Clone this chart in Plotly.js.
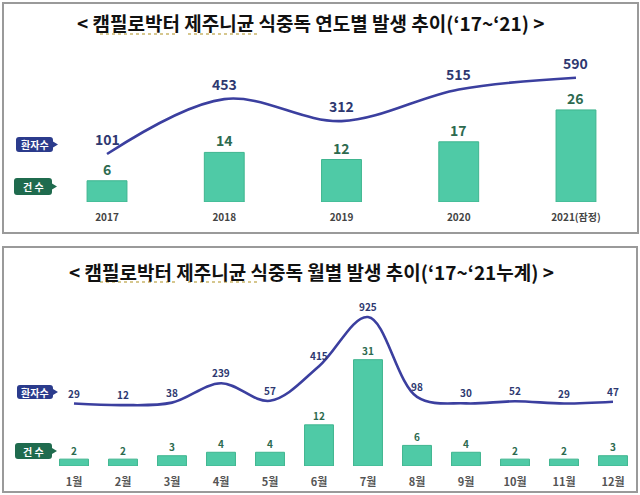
<!DOCTYPE html>
<html>
<head>
<meta charset="utf-8">
<script src="https://cdn.plot.ly/plotly-3.0.1.min.js"></script>
<style>html,body{margin:0;padding:0;background:#fff;}#chart{width:640px;height:495px;}</style>
</head>
<body>
<div id="chart"></div>
<script>
// ---- data ----
const years = ['2017', '2018', '2019', '2020', '2021(잠정)'];
const yearCases = [6, 14, 12, 17, 26];
const yearPatients = [101, 453, 312, 515, 590];

const months = ['1월', '2월', '3월', '4월', '5월', '6월', '7월', '8월', '9월', '10월', '11월', '12월'];
const monthCases = [2, 2, 3, 4, 4, 12, 31, 6, 4, 2, 2, 3];
const monthPatients = [29, 12, 38, 239, 57, 415, 925, 98, 30, 52, 29, 47];

const titleTop = '< 캠필로박터 제주니균 식중독 연도별 발생 추이(‘17~‘21) >';
const titleBottom = '< 캠필로박터 제주니균 식중독 월별 발생 추이(‘17~‘21누계) >';
const patientLabel = '환자수';
const caseLabel = '건 수';

// ---- helpers (pixel -> paper) ----
const W = 640, H = 495;
const X = px => px / W;
const Y = py => 1 - py / H;

const FONT = '"Noto Sans CJK KR", "Noto Sans", sans-serif';
const barColor = '#4fcaa6';
const barLine = '#3fb58f';
const lineColor = '#3b3f9f';
const navy = '#2e3870';
const green = '#2d6a4f';

const traces = [
  {type: 'bar', x: years, y: yearCases, xaxis: 'x', yaxis: 'y', width: 0.34,
   marker: {color: barColor, line: {color: barLine, width: 1}}, hoverinfo: 'none'},
  {type: 'scatter', mode: 'lines', x: years, y: yearPatients, xaxis: 'x', yaxis: 'y2',
   line: {color: lineColor, width: 2.6, shape: 'spline', smoothing: 1}, hoverinfo: 'none'},
  {type: 'bar', x: months, y: monthCases, xaxis: 'x2', yaxis: 'y3', width: 0.59,
   marker: {color: barColor, line: {color: barLine, width: 1}}, hoverinfo: 'none'},
  {type: 'scatter', mode: 'lines', x: months, y: monthPatients, xaxis: 'x2', yaxis: 'y4',
   line: {color: lineColor, width: 2.6, shape: 'spline', smoothing: 1}, hoverinfo: 'none'}
];

const annotations = [];
// titles
annotations.push({xref: 'paper', yref: 'paper', x: X(311), y: Y(23), text: '<b>' + titleTop + '</b>',
  showarrow: false, font: {family: FONT, size: 19, color: '#111'}, xanchor: 'center', yanchor: 'middle'});
annotations.push({xref: 'paper', yref: 'paper', x: X(311), y: Y(271), text: '<b>' + titleBottom + '</b>',
  showarrow: false, font: {family: FONT, size: 19, color: '#111'}, xanchor: 'center', yanchor: 'middle'});

// value labels (category index positions)
years.forEach((c, i) => {
  annotations.push({x: i, y: yearCases[i], xref: 'x', yref: 'y', text: '<b>' + yearCases[i] + '</b>',
    showarrow: false, yshift: 12, yanchor: 'middle', font: {family: FONT, size: 14, color: green}});
  annotations.push({x: i, y: yearPatients[i], xref: 'x', yref: 'y2', text: '<b>' + yearPatients[i] + '</b>',
    showarrow: false, yshift: 15, yanchor: 'middle', font: {family: FONT, size: 14, color: navy}});
});
months.forEach((c, i) => {
  annotations.push({x: i, y: monthCases[i], xref: 'x2', yref: 'y3', text: '<b>' + monthCases[i] + '</b>',
    showarrow: false, yshift: 9, yanchor: 'middle', font: {family: FONT, size: 10, color: green}});
  annotations.push({x: i, y: monthPatients[i], xref: 'x2', yref: 'y4', text: '<b>' + monthPatients[i] + '</b>',
    showarrow: false, yshift: 10.5, yanchor: 'middle', font: {family: FONT, size: 10, color: navy}});
});

const shapes = [
  {type: 'rect', xref: 'paper', yref: 'paper', x0: X(3), x1: X(638), y0: Y(3), y1: Y(233),
   line: {color: '#9a9a9a', width: 2}, fillcolor: 'rgba(0,0,0,0)'},
  {type: 'rect', xref: 'paper', yref: 'paper', x0: X(3), x1: X(637), y0: Y(247), y1: Y(492),
   line: {color: '#9a9a9a', width: 2}, fillcolor: 'rgba(0,0,0,0)'},
  // spell-check style dotted underline in titles
  {type: 'line', xref: 'paper', yref: 'paper', x0: X(100), x1: X(178), y0: Y(34), y1: Y(34), line: {color: '#c9b56a', width: 1.5, dash: 'dot'}},
  {type: 'line', xref: 'paper', yref: 'paper', x0: X(188), x1: X(258), y0: Y(34), y1: Y(34), line: {color: '#c9b56a', width: 1.5, dash: 'dot'}},
  {type: 'line', xref: 'paper', yref: 'paper', x0: X(100), x1: X(178), y0: Y(282), y1: Y(282), line: {color: '#c9b56a', width: 1.5, dash: 'dot'}},
  {type: 'line', xref: 'paper', yref: 'paper', x0: X(188), x1: X(258), y0: Y(282), y1: Y(282), line: {color: '#c9b56a', width: 1.5, dash: 'dot'}}
];

// callout boxes
function callout(x0, x1, y0, y1, color, label) {
  const r = 3, tip = 5;
  const ym = (y0 + y1) / 2;
  const p = [
    ['M', x0 + r, y0], ['L', x1 - r, y0], ['Q', x1, y0, x1, y0 + r],
    ['L', x1, ym - 3], ['L', x1 + tip, ym], ['L', x1, ym + 3],
    ['L', x1, y1 - r], ['Q', x1, y1, x1 - r, y1],
    ['L', x0 + r, y1], ['Q', x0, y1, x0, y1 - r],
    ['L', x0, y0 + r], ['Q', x0, y0, x0 + r, y0]
  ];
  let d = '';
  p.forEach(s => {
    d += s[0];
    for (let k = 1; k < s.length; k += 2) d += ' ' + X(s[k]).toFixed(5) + ',' + Y(s[k + 1]).toFixed(5);
    d += ' ';
  });
  d += 'Z';
  shapes.push({type: 'path', xref: 'paper', yref: 'paper', path: d, fillcolor: color, line: {width: 0}});
  annotations.push({xref: 'paper', yref: 'paper', x: X((x0 + x1) / 2), y: Y(ym), text: '<b>' + label + '</b>',
    showarrow: false, font: {family: FONT, size: 10, color: '#fff'}, xanchor: 'center', yanchor: 'middle'});
}

callout(16, 53, 137, 152, '#2b3b8c', patientLabel);
callout(14, 52, 178, 195, '#1f6b4e', caseLabel);
callout(17, 53, 385, 399, '#2b3b8c', patientLabel);
callout(15, 52, 443, 459, '#1f6b4e', caseLabel);

const hiddenY = {visible: false, showgrid: false, zeroline: false, fixedrange: true};

const layout = {
  width: W, height: H,
  margin: {l: 0, r: 0, t: 0, b: 0},
  paper_bgcolor: '#ffffff', plot_bgcolor: 'rgba(0,0,0,0)',
  showlegend: false,
  font: {family: FONT},
  xaxis: {domain: [X(48.4), X(634.6)], type: 'category', range: [-0.5, 4.5], anchor: 'y',
    showgrid: false, zeroline: false, showline: false, ticks: 'outside', ticklen: 6, tickcolor: 'rgba(0,0,0,0)',
    tickfont: {family: FONT, size: 10, color: '#444'}, tickvals: years, ticktext: years.map(t => '<b>' + t + '</b>')},
  yaxis: Object.assign({domain: [Y(202), Y(60)], range: [0, 40.1], anchor: 'x'}, hiddenY),
  yaxis2: Object.assign({overlaying: 'y', range: [-206.7, 703.6], anchor: 'x'}, hiddenY),
  xaxis2: {domain: [X(49.5), X(637.5)], type: 'category', range: [-0.5, 11.5], anchor: 'y3',
    showgrid: false, zeroline: false, showline: false, ticks: 'outside', ticklen: 6, tickcolor: 'rgba(0,0,0,0)',
    tickfont: {family: FONT, size: 11, color: '#555'}, tickvals: months, ticktext: months.map(t => '<b>' + t + '</b>')},
  yaxis3: Object.assign({domain: [Y(466), Y(300)], range: [0, 48.4], anchor: 'x2'}, hiddenY),
  yaxis4: Object.assign({overlaying: 'y3', range: [-618.7, 1101.5], anchor: 'x2'}, hiddenY),
  annotations: annotations,
  shapes: shapes
};

Plotly.newPlot('chart', traces, layout, {displayModeBar: false, staticPlot: true});
</script>
</body>
</html>
